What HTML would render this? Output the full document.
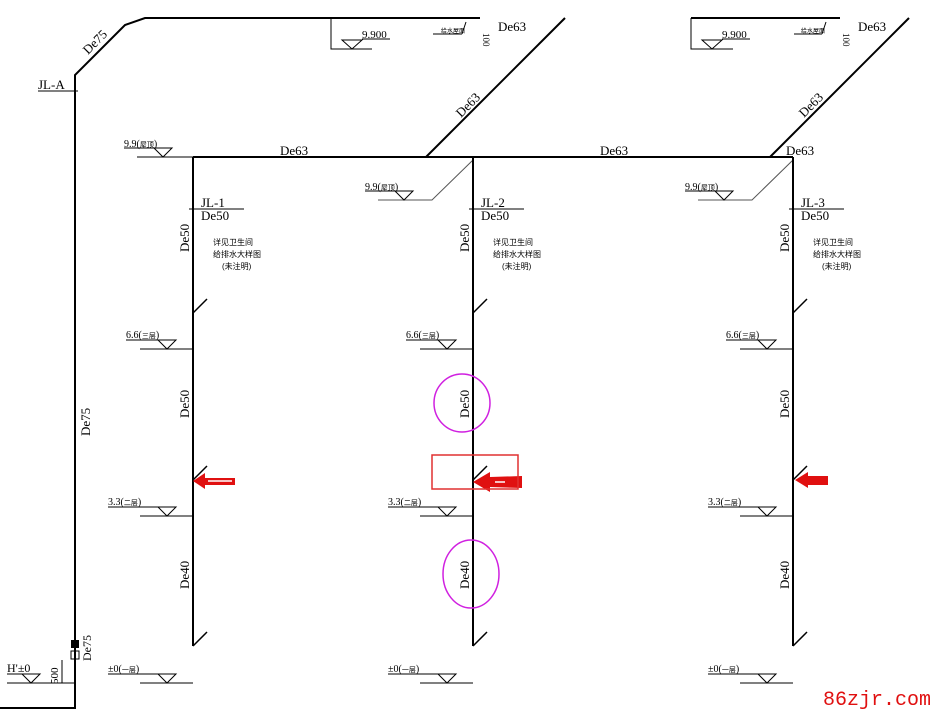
<!DOCTYPE html>
<html><head><meta charset="utf-8"><style>
html,body{margin:0;padding:0;background:#fff;}
svg{display:block;}
text{font-family:"Liberation Serif","Noto Serif CJK SC",serif;fill:#000;}
.s{font-family:"Liberation Sans","Noto Sans CJK SC",sans-serif;}
</style></head><body>
<svg width="934" height="711" viewBox="0 0 934 711" xmlns="http://www.w3.org/2000/svg">
<rect width="934" height="711" fill="#fff"/>
<!-- JL-A -->
<polyline points="0,708 75,708 75,75 125,25 145,18 480,18" fill="none" stroke="#000" stroke-width="2"/>
<line x1="38" y1="91" x2="78" y2="91" stroke="#000" stroke-width="1"/>
<text x="38" y="89" font-size="13">JL-A</text>
<text x="0" y="0" font-size="13" transform="translate(88,55) rotate(-45)">De75</text>
<text x="0" y="0" font-size="13" transform="translate(90,436) rotate(-90)">De75</text>
<!-- top boxes -->
<g stroke="#000" fill="none" stroke-width="1">
<polyline points="331,18 331,49 372,49"/>
<polygon points="342,40 362,40 352,49"/>
<line x1="362" y1="39" x2="390" y2="39"/>
<line x1="433" y1="34" x2="462" y2="34"/>
<line x1="462" y1="34" x2="466" y2="22"/>
<line x1="691" y1="18" x2="840" y2="18" stroke-width="2"/>
<polyline points="691,18 691,49 733,49"/>
<polygon points="702,40 722,40 712,49"/>
<line x1="722" y1="39" x2="750" y2="39"/>
<line x1="794" y1="34" x2="822" y2="34"/>
<line x1="822" y1="34" x2="826" y2="22"/>
</g>
<text x="362" y="38" font-size="11">9.900</text>
<text x="722" y="38" font-size="11">9.900</text>
<text x="441" y="33" font-size="6" class="s">给水屋面</text>
<text x="801" y="33" font-size="6" class="s">给水屋面</text>
<text x="0" y="0" font-size="9" transform="translate(483,33) rotate(90)">100</text>
<text x="0" y="0" font-size="9" transform="translate(843,33) rotate(90)">100</text>
<text x="498" y="31" font-size="13">De63</text>
<text x="858" y="31" font-size="13">De63</text>
<!-- main horizontal -->
<line x1="193" y1="157" x2="793" y2="157" stroke="#000" stroke-width="2"/>
<line x1="426" y1="157" x2="565" y2="18" stroke="#000" stroke-width="2"/>
<line x1="770" y1="157" x2="909" y2="18" stroke="#000" stroke-width="2"/>
<text x="280" y="155" font-size="13">De63</text>
<text x="600" y="155" font-size="13">De63</text>
<text x="786" y="155" font-size="13">De63</text>
<text x="0" y="0" font-size="13" transform="translate(461,118) rotate(-45)">De63</text>
<text x="0" y="0" font-size="13" transform="translate(804,118) rotate(-45)">De63</text>
<!-- col1 9.9 -->
<line x1="137" y1="157" x2="193" y2="157" stroke="#000" stroke-width="1"/>
<line x1="124" y1="148" x2="172" y2="148" stroke="#000" stroke-width="1"/>
<polygon points="154,148 172,148 163,157" fill="none" stroke="#000" stroke-width="1"/>
<text x="124" y="147" font-size="10">9.9(<tspan class="s" font-size="7">屋顶</tspan>)</text>
<!-- col 2/3 9.9 -->
<g stroke="#555" stroke-width="1" fill="none">
<polyline points="473,160 432,200 378,200"/>
<polyline points="793,160 752,200 698,200"/>
</g>
<g stroke="#000" stroke-width="1" fill="none">
<line x1="365" y1="191" x2="413" y2="191"/>
<polygon points="395,191 413,191 404,200"/>
<line x1="685" y1="191" x2="733" y2="191"/>
<polygon points="715,191 733,191 724,200"/>
</g>
<text x="365" y="190" font-size="10">9.9(<tspan class="s" font-size="7">屋顶</tspan>)</text>
<text x="685" y="190" font-size="10">9.9(<tspan class="s" font-size="7">屋顶</tspan>)</text>
<!-- columns -->
<g id="c1">
<line x1="193" y1="157" x2="193" y2="646" stroke="#000" stroke-width="2"/>
<line x1="189" y1="209" x2="244" y2="209" stroke="#000" stroke-width="1"/>
<text x="201" y="220" font-size="13">De50</text>
<text x="213" y="245" font-size="8" class="s">详见卫生间</text>
<text x="213" y="257" font-size="8" class="s">给排水大样图</text>
<text x="222" y="269" font-size="8" class="s">(未注明)</text>
<text x="0" y="0" font-size="13" transform="translate(189,252) rotate(-90)">De50</text>
<text x="0" y="0" font-size="13" transform="translate(189,418) rotate(-90)">De50</text>
<text x="0" y="0" font-size="13" transform="translate(189,589) rotate(-90)">De40</text>
<g stroke="#000" stroke-width="1.5"><line x1="193" y1="313" x2="207" y2="299"/><line x1="193" y1="480" x2="207" y2="466"/><line x1="193" y1="646" x2="207" y2="632"/></g>
<g stroke="#000" stroke-width="1" fill="none">
<line x1="140" y1="349" x2="193" y2="349"/><line x1="126" y1="340" x2="176" y2="340"/><polygon points="158,340 176,340 167,349"/>
<line x1="140" y1="516" x2="193" y2="516"/><line x1="108" y1="507" x2="176" y2="507"/><polygon points="158,507 176,507 167,516"/>
<line x1="140" y1="683" x2="193" y2="683"/><line x1="108" y1="674" x2="176" y2="674"/><polygon points="158,674 176,674 167,683"/>
</g>
<text x="126" y="338" font-size="10">6.6(<tspan class="s" font-size="7">三层</tspan>)</text>
<text x="108" y="505" font-size="10">3.3(<tspan class="s" font-size="7">二层</tspan>)</text>
<text x="108" y="672" font-size="10">±0(<tspan class="s" font-size="7">一层</tspan>)</text>
</g>
<use href="#c1" transform="translate(280,0)"/>
<use href="#c1" transform="translate(600,0)"/>
<text x="201" y="207" font-size="13">JL-1</text>
<text x="481" y="207" font-size="13">JL-2</text>
<text x="801" y="207" font-size="13">JL-3</text>
<!-- bottom left -->
<line x1="7" y1="683" x2="75" y2="683" stroke="#000" stroke-width="1"/>
<polygon points="22,674 40,674 31,683" fill="none" stroke="#000" stroke-width="1"/>
<line x1="7" y1="674" x2="35" y2="674" stroke="#000" stroke-width="1"/>
<text x="7" y="672" font-size="12">H'±0</text>
<line x1="62" y1="660" x2="62" y2="683" stroke="#000" stroke-width="1"/>
<text x="0" y="0" font-size="11" transform="translate(58,684) rotate(-90)">500</text>
<rect x="71" y="640" width="8" height="8" fill="#000"/>
<rect x="71" y="651" width="8" height="8" fill="none" stroke="#000"/>
<text x="0" y="0" font-size="12" transform="translate(91,661) rotate(-90)">De75</text>
<!-- annotations -->
<g fill="#e01010">
<polygon points="193,481 205,473 205,478 235,478 235,485 205,485 205,489"/>
<polygon points="473,482 490,472 490,477 522,476 522,488 490,487 490,492"/>
<polygon points="795,480 808,472 808,476 828,476 828,485 808,485 808,488"/>
</g>
<line x1="208" y1="481" x2="232" y2="481" stroke="#fff" stroke-width="1.5"/>
<line x1="495" y1="482" x2="505" y2="482" stroke="#fff" stroke-width="1.5"/>
<rect x="432" y="455" width="86" height="34" fill="none" stroke="#e03030" stroke-width="1.5"/>
<ellipse cx="462" cy="403" rx="28" ry="29" fill="none" stroke="#d020e0" stroke-width="1.5"/>
<ellipse cx="471" cy="574" rx="28" ry="34" fill="none" stroke="#d020e0" stroke-width="1.5"/>
<text x="823" y="705" font-size="20" fill="#e01010" style="fill:#e01010;font-family:'Liberation Mono',monospace">86zjr.com</text>
</svg>
</body></html>
